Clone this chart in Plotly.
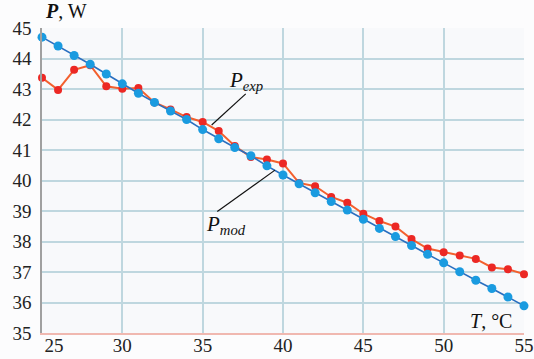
import plotly.graph_objects as go

T = list(range(25, 56))
P_mod = [44.70, 44.41, 44.10, 43.81, 43.49, 43.17, 42.86, 42.56, 42.28, 42.00,
         41.67, 41.37, 41.08, 40.81, 40.48, 40.18, 39.89, 39.60, 39.31, 39.03,
         38.73, 38.43, 38.16, 37.87, 37.58, 37.30, 37.01, 36.73, 36.46, 36.18, 35.89]
P_exp = [43.37, 42.97, 43.63, 43.78, 43.09, 43.01, 43.03, 42.56, 42.33, 42.08,
         41.92, 41.62, 41.13, 40.77, 40.69, 40.56, 39.92, 39.81, 39.46, 39.27,
         38.91, 38.67, 38.49, 38.08, 37.77, 37.65, 37.54, 37.43, 37.15, 37.09, 36.93]
x_ticks = [25, 30, 35, 40, 45, 50, 55]
x_ticktext = ["\u00a0\u00a0\u00a0\u00a0\u00a025", "30", "35", "40", "45", "50", "55"]
y_ticks = list(range(35, 46))

SERIF = "Liberation Serif"

fig = go.Figure()
fig.add_trace(go.Scatter(
    x=T, y=P_exp, mode="lines+markers",
    line=dict(color="#f3602e", width=2),
    marker=dict(color="#ec2824", size=8, line=dict(width=0)),
    showlegend=False, cliponaxis=False))
fig.add_trace(go.Scatter(
    x=T, y=P_mod, mode="lines+markers",
    line=dict(color="#2a6fc0", width=1.6),
    marker=dict(color="#1a9be0", size=9, line=dict(width=0)),
    showlegend=False, cliponaxis=False))

grid = "#bfd7df"
fig.update_xaxes(range=[25, 55], tickvals=x_ticks, ticktext=x_ticktext,
                 automargin=False, ticklabeloverflow="allow",
                 ticklabelstandoff=-6,
                 showgrid=True, gridcolor=grid, gridwidth=1.5, zeroline=False,
                 showline=True, linecolor="#f0b8b0", linewidth=1.5,
                 ticks="", ticklen=0,
                 tickfont=dict(family=SERIF, size=19, color="#222"))
fig.update_yaxes(range=[35, 45], tickvals=y_ticks,
                 automargin=False, ticklabeloverflow="allow",
                 showgrid=True, gridcolor=grid, gridwidth=1.5, zeroline=False,
                 showline=True, linecolor="#a0a0a0", linewidth=1.5,
                 ticks="outside", ticklen=5, tickcolor="rgba(0,0,0,0)",
                 tickfont=dict(family=SERIF, size=19, color="#222"))

# leader lines
fig.add_shape(type="line", x0=37.68, y0=42.84, x1=35.56, y1=41.82,
              line=dict(color="#111", width=1.2))
fig.add_shape(type="line", x0=35.91, y0=38.98, x1=39.50, y1=40.34,
              line=dict(color="#111", width=1.2))

fig.add_annotation(x=37.72, y=43.27, xref="x", yref="y", showarrow=False,
                   xanchor="center", yanchor="middle",
                   text="<i>P</i><sub><i>exp</i></sub>",
                   font=dict(family=SERIF, size=21, color="#111"))
fig.add_annotation(x=36.45, y=38.55, xref="x", yref="y", showarrow=False,
                   xanchor="center", yanchor="middle",
                   text="<i>P</i><sub><i>mod</i></sub>",
                   font=dict(family=SERIF, size=21, color="#111"))
fig.add_annotation(x=0.049, y=1.055, xref="paper", yref="paper", showarrow=False,
                   xanchor="center", yanchor="middle",
                   text="<b><i>P</i></b>, W",
                   font=dict(family=SERIF, size=20, color="#111"))
fig.add_annotation(x=52.94, y=35.40, xref="x", yref="y", showarrow=False,
                   xanchor="center", yanchor="middle",
                   text="<i>T</i>, \u00b0C",
                   font=dict(family=SERIF, size=20, color="#111"))

fig.update_layout(width=534, height=359,
                  margin=dict(l=42, r=10, t=28, b=26),
                  paper_bgcolor="#fcfcfd", plot_bgcolor="#f8f9fb")
fig.write_html("out.html", config={"displayModeBar": False},
               post_script="document.body.style.margin='0';document.body.style.overflow='hidden';")
